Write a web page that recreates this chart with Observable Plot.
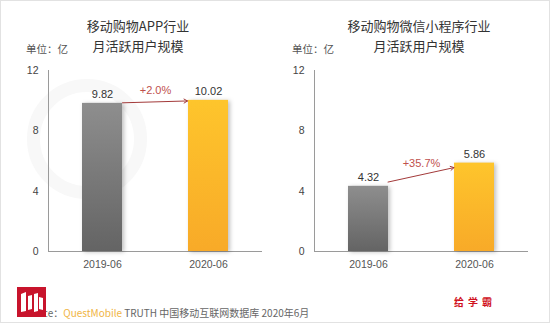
<!DOCTYPE html>
<html><head><meta charset="utf-8">
<script src="https://cdn.jsdelivr.net/npm/d3@7"></script>
<script src="https://cdn.jsdelivr.net/npm/@observablehq/plot@0.6"></script>
<style>
html,body{margin:0;padding:0;background:#fff;}
#wrap{position:relative;width:550px;height:323px;overflow:hidden;background:#fff;box-sizing:border-box;border:1px solid #e2e2e2;font-family:"Noto Sans CJK SC","Noto Sans",sans-serif;}
.abs{position:absolute;white-space:nowrap;}
.title{font-size:13px;color:#333;text-align:center;width:200px;line-height:16px;}
.unit{font-size:10.5px;color:#555;line-height:14px;}
.panel{position:absolute;top:60px;}
.panel g[aria-label=bar] rect{filter:drop-shadow(2px 1px 2px rgba(0,0,0,0.25));}
</style></head>
<body><div id="wrap">
<svg width="0" height="0" style="position:absolute">
<defs>
<linearGradient id="gGrey" x1="0" y1="0" x2="0" y2="1"><stop offset="0" stop-color="#8e8e8e"/><stop offset="1" stop-color="#646464"/></linearGradient>
<linearGradient id="gYellow" x1="0" y1="0" x2="0" y2="1"><stop offset="0" stop-color="#fec52c"/><stop offset="1" stop-color="#f8aa28"/></linearGradient>
</defs></svg>
<div class="abs" style="left:26px;top:78px;width:120px;height:120px;border:13px solid #f8f8f8;border-radius:50%;box-sizing:border-box;"></div>
<div id="titles"></div>
<div id="p1" class="panel" style="left:0px"></div>
<div id="p2" class="panel" style="left:266px"></div>
<div class="abs" style="left:20px;top:305px;font-size:10px;color:#666;line-height:14px;">Source：<span style="color:#f0b545">QuestMobile</span> TRUTH 中国移动互联网数据库 2020年6月</div>
<svg class="abs" style="left:16px;top:286px" width="29" height="30" viewBox="0 0 29 30">
  <rect width="29" height="30" fill="#c8142c"/>
  <path d="M4 7 L9 5 L9 24 L4 25 Z M11 9 L15 8 L15 22 L11 23 Z M17 7 L21 6 L21 24 L17 25 Z M22 10 L26 11 L26 23 L22 22 Z" fill="#fff"/>
</svg>
<div class="abs" style="left:453px;top:294px;font-size:10px;color:#d0101c;font-weight:bold;letter-spacing:4px;line-height:14px;">给学霸</div>
</div>
<script>
const categories = ["2019-06", "2020-06"];
const appValues = [9.82, 10.02];
const miniValues = [4.32, 5.86];
const appGrowth = "+2.0%";
const miniGrowth = "+35.7%";
const yTicks = [0, 4, 8, 12];
const appTitle = ["移动购物APP行业", "月活跃用户规模"];
const miniTitle = ["移动购物微信小程序行业", "月活跃用户规模"];
const unitLabel = "单位：亿";
const barFills = ["url(#gGrey)", "url(#gYellow)"];

function makePanel(values, growth) {
  const data = categories.map((c, i) => ({cat: c, value: values[i], fill: barFills[i]}));
  const arrowData = [{from: categories[0], to: categories[1], v1: values[0], v2: values[1], label: growth}];
  return Plot.plot({
    width: 275, height: 215,
    marginTop: 9, marginBottom: 25, marginLeft: 47, marginRight: 15,
    style: {background: "transparent", fontFamily: "'Liberation Sans', Arial, sans-serif", fontSize: "10.5px", color: "#444"},
    x: {domain: categories, paddingInner: 0.623, paddingOuter: 0.316, label: null},
    y: {domain: [0, 12], label: null},
    color: {type: "identity"},
    marks: [
      Plot.frame({anchor: "left", stroke: "#9a9a9a"}),
      Plot.frame({anchor: "bottom", stroke: "#9a9a9a"}),
      Plot.axisY({ticks: yTicks, tickSize: 0, tickPadding: 10, label: null, fontSize: 10.5}),
      Plot.axisX({tickSize: 0, tickPadding: 9, label: null, fontSize: 10.5, fill: "#555"}),
      Plot.barY(data, {x: "cat", y: "value", fill: "fill"}),
      Plot.text(data, {x: "cat", y: "value", text: d => d.value.toFixed(2), dy: -9, fontSize: 11, fill: "#333"}),
      Plot.arrow(arrowData, {x1: "from", x2: "to", y1: "v1", y2: "v2", stroke: "#a33a3a", insetStart: 20, insetEnd: 21, headLength: 6, strokeWidth: 1}),
      Plot.text(arrowData, {x: "from", y: d => (d.v1 + d.v2) / 2, text: "label", dx: 53, dy: -11, fill: "#c0504d", fontSize: 11})
    ]
  });
}

document.getElementById("p1").append(makePanel(appValues, appGrowth));
document.getElementById("p2").append(makePanel(miniValues, miniGrowth));

const titles = document.getElementById("titles");
[[appTitle, 137], [miniTitle, 418]].forEach(([t, cx]) => {
  t.forEach((line, i) => {
    const d = document.createElement("div");
    d.className = "abs title";
    d.style.left = (cx - 100) + "px";
    d.style.top = (17 + i * 20) + "px";
    d.textContent = line;
    titles.append(d);
  });
});
[[25], [291]].forEach(([x]) => {
  const d = document.createElement("div");
  d.className = "abs unit";
  d.style.left = x + "px";
  d.style.top = "41px";
  d.textContent = unitLabel;
  titles.append(d);
});
</script>
</body></html>
